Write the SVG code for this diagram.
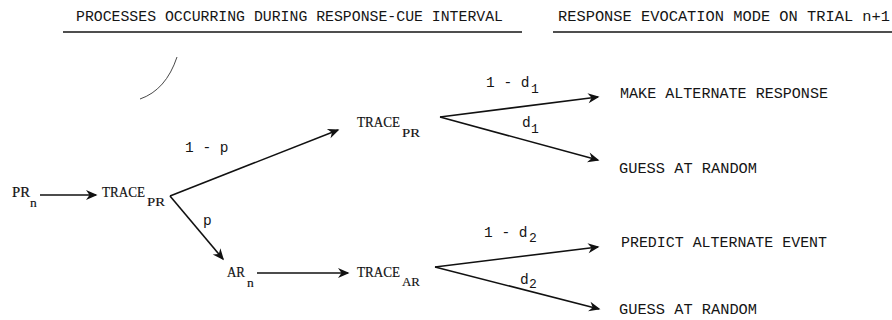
<svg xmlns="http://www.w3.org/2000/svg" width="892" height="320" viewBox="0 0 892 320">
  <style>
    .hdr { font-family: "Liberation Mono", "DejaVu Sans Mono", monospace; font-size: 14.6px; fill: #151515; }
    .rule { stroke: #151515; stroke-width: 1.3; }
    .node { font-family: "Liberation Serif", "DejaVu Serif", serif; font-size: 14.5px; fill: #111; stroke: #111; stroke-width: 0.2; }
    .sub { font-family: "Liberation Serif", "DejaVu Serif", serif; font-size: 13.5px; fill: #111; stroke: #111; stroke-width: 0.15; }
    .mode { font-family: "Liberation Mono", "DejaVu Sans Mono", monospace; font-size: 14.8px; fill: #151515; }
    .lbl { font-family: "Liberation Mono", "DejaVu Sans Mono", monospace; font-size: 14.5px; fill: #151515; }
    .lsub { font-family: "Liberation Mono", "DejaVu Sans Mono", monospace; font-size: 13px; fill: #151515; }
    .edge { stroke: #111; stroke-width: 1.6; fill: none; marker-end: url(#head); }
  </style>
  <defs>
    <marker id="head" markerUnits="userSpaceOnUse" markerWidth="14" markerHeight="12" viewBox="-12 -6 14 12" refX="0" refY="0" orient="auto">
      <path d="M1.5,0 L-10,-5 L-6.5,0 L-10,5 Z" fill="#111"/>
    </marker>
  </defs>
  <rect width="892" height="320" fill="#ffffff"/>

  <!-- column headings -->
  <g id="headings">
    <text class="hdr" x="76" y="21" textLength="427" lengthAdjust="spacingAndGlyphs">PROCESSES OCCURRING DURING RESPONSE-CUE INTERVAL</text>
    <line class="rule" x1="63" y1="32" x2="522" y2="32"/>
    <text class="hdr" x="558" y="21" textLength="332" lengthAdjust="spacingAndGlyphs">RESPONSE EVOCATION MODE ON TRIAL n+1</text>
    <line class="rule" x1="553" y1="32" x2="892" y2="32"/>
  </g>

  <!-- stray pen stroke -->
  <path d="M177,57 Q166,90 140,99" fill="none" stroke="#333" stroke-width="0.9"/>

  <!-- nodes -->
  <g id="node-pr-n">
    <text class="node" x="12" y="197" textLength="18" lengthAdjust="spacingAndGlyphs">PR</text>
    <text class="sub" x="30" y="207">n</text>
  </g>
  <g id="node-trace-pr-first">
    <text class="node" x="102" y="197" textLength="43" lengthAdjust="spacingAndGlyphs">TRACE</text>
    <text class="sub" x="147" y="206" textLength="18" lengthAdjust="spacingAndGlyphs">PR</text>
  </g>
  <g id="node-trace-pr-second">
    <text class="node" x="357" y="127" textLength="43" lengthAdjust="spacingAndGlyphs">TRACE</text>
    <text class="sub" x="402" y="137" textLength="18" lengthAdjust="spacingAndGlyphs">PR</text>
  </g>
  <g id="node-ar-n">
    <text class="node" x="227" y="277" textLength="18" lengthAdjust="spacingAndGlyphs">AR</text>
    <text class="sub" x="247" y="287">n</text>
  </g>
  <g id="node-trace-ar">
    <text class="node" x="357" y="277" textLength="43" lengthAdjust="spacingAndGlyphs">TRACE</text>
    <text class="sub" x="402" y="286" textLength="18" lengthAdjust="spacingAndGlyphs">AR</text>
  </g>
  <g id="node-make-alternate-response">
    <text class="mode" x="620" y="98" textLength="208" lengthAdjust="spacingAndGlyphs">MAKE ALTERNATE RESPONSE</text>
  </g>
  <g id="node-guess-at-random-1">
    <text class="mode" x="619" y="173" textLength="138" lengthAdjust="spacingAndGlyphs">GUESS AT RANDOM</text>
  </g>
  <g id="node-predict-alternate-event">
    <text class="mode" x="621" y="247" textLength="206" lengthAdjust="spacingAndGlyphs">PREDICT ALTERNATE EVENT</text>
  </g>
  <g id="node-guess-at-random-2">
    <text class="mode" x="619" y="314" textLength="138" lengthAdjust="spacingAndGlyphs">GUESS AT RANDOM</text>
  </g>

  <!-- connectors -->
  <g id="connectors">
    <line class="edge" x1="40" y1="195" x2="96" y2="195"/>
    <line class="edge" x1="170" y1="196" x2="338" y2="130"/>
    <line class="edge" x1="170" y1="196" x2="223" y2="259"/>
    <line class="edge" x1="257" y1="273" x2="348" y2="273"/>
    <line class="edge" x1="440" y1="117" x2="598" y2="97"/>
    <line class="edge" x1="440" y1="117" x2="598" y2="160"/>
    <line class="edge" x1="435" y1="267" x2="598" y2="247"/>
    <line class="edge" x1="435" y1="267" x2="599" y2="309"/>
  </g>

  <!-- branch probabilities -->
  <g id="connector-labels">
    <text class="lbl" x="185" y="152">1 - p</text>
    <text class="lbl" x="203" y="225">p</text>
    <text class="lbl" x="486" y="87">1 - d</text>
    <text class="lsub" x="531" y="93">1</text>
    <text class="lbl" x="522" y="127">d</text>
    <text class="lsub" x="531" y="133">1</text>
    <text class="lbl" x="484" y="237">1 - d</text>
    <text class="lsub" x="529" y="242">2</text>
    <text class="lbl" x="520" y="284">d</text>
    <text class="lsub" x="529" y="288">2</text>
  </g>
</svg>
